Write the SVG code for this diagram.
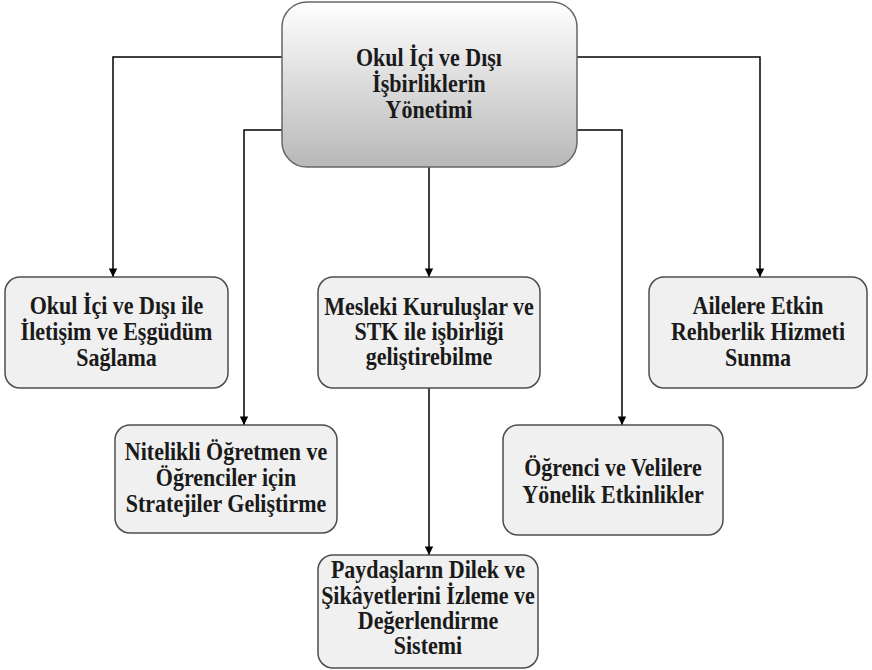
<svg xmlns="http://www.w3.org/2000/svg" width="872" height="670" viewBox="0 0 872 670">
<style>
.box{fill:#f0f0f0;stroke:#4d4d4d;stroke-width:1.5}
.main{fill:url(#g);stroke:#666;stroke-width:1.5}
text{font-family:'Liberation Serif',Tinos,'Times New Roman',Times,'DejaVu Serif',serif;font-weight:700;font-size:22px;fill:#1a1a1a;text-anchor:middle;transform-box:fill-box;transform-origin:50% 50%;transform:scaleY(1.14)}
.c{fill:none;stroke:#000;stroke-width:1.5;marker-end:url(#a)}
</style>
<defs>
<linearGradient id="g" x1="0" y1="0" x2="0" y2="1">
<stop offset="0" stop-color="#ffffff"/>
<stop offset="1" stop-color="#b8b8b8"/>
</linearGradient>
<marker id="a" viewBox="0 0 10 10" refX="10" refY="5" markerWidth="6" markerHeight="6" markerUnits="userSpaceOnUse" orient="auto" overflow="visible">
<path d="M0,0 L10,5 L0,10 z" fill="#000" transform="scale(1.4)" transform-origin="10 5"/>
</marker>
</defs>
<g id="connectors">
<path class="c" d="M282,57 H113 V277"/>
<path class="c" d="M282,130 H244 V425"/>
<path class="c" d="M429,167 V277"/>
<path class="c" d="M577,57 H760 V277"/>
<path class="c" d="M577,130 H622 V425"/>
<path class="c" d="M429,388 V555"/>
</g>
<g id="main">
<rect class="main" x="282" y="2" width="295" height="165" rx="25"/>
<text x="429" y="65">Okul İçi ve Dışı</text>
<text x="429" y="91">İşbirliklerin</text>
<text x="429" y="117">Yönetimi</text>
</g>
<g id="n1">
<rect class="box" x="5" y="277" width="223" height="111" rx="15"/>
<text x="116.5" y="313">Okul İçi ve Dışı ile</text>
<text x="116.5" y="339">İletişim ve Eşgüdüm</text>
<text x="116.5" y="365">Sağlama</text>
</g>
<g id="n2">
<rect class="box" x="318" y="277" width="222" height="111" rx="15"/>
<text x="429" y="314">Mesleki Kuruluşlar ve</text>
<text x="429" y="339">STK ile işbirliği</text>
<text x="429" y="364">geliştirebilme</text>
</g>
<g id="n3">
<rect class="box" x="649" y="277" width="218" height="111" rx="15"/>
<text x="758" y="313">Ailelere Etkin</text>
<text x="758" y="339">Rehberlik Hizmeti</text>
<text x="758" y="365">Sunma</text>
</g>
<g id="n4">
<rect class="box" x="115" y="425" width="222" height="108" rx="15"/>
<text x="226" y="459">Nitelikli Öğretmen ve</text>
<text x="226" y="485">Öğrenciler için</text>
<text x="226" y="511">Stratejiler Geliştirme</text>
</g>
<g id="n5">
<rect class="box" x="503" y="425" width="220" height="110" rx="15"/>
<text x="613" y="475">Öğrenci ve Velilere</text>
<text x="613" y="502">Yönelik Etkinlikler</text>
</g>
<g id="n6">
<rect class="box" x="318" y="555" width="220" height="113" rx="15"/>
<text x="428" y="577">Paydaşların Dilek ve</text>
<text x="428" y="603">Şikâyetlerini İzleme ve</text>
<text x="428" y="628">Değerlendirme</text>
<text x="428" y="653">Sistemi</text>
</g>
</svg>
